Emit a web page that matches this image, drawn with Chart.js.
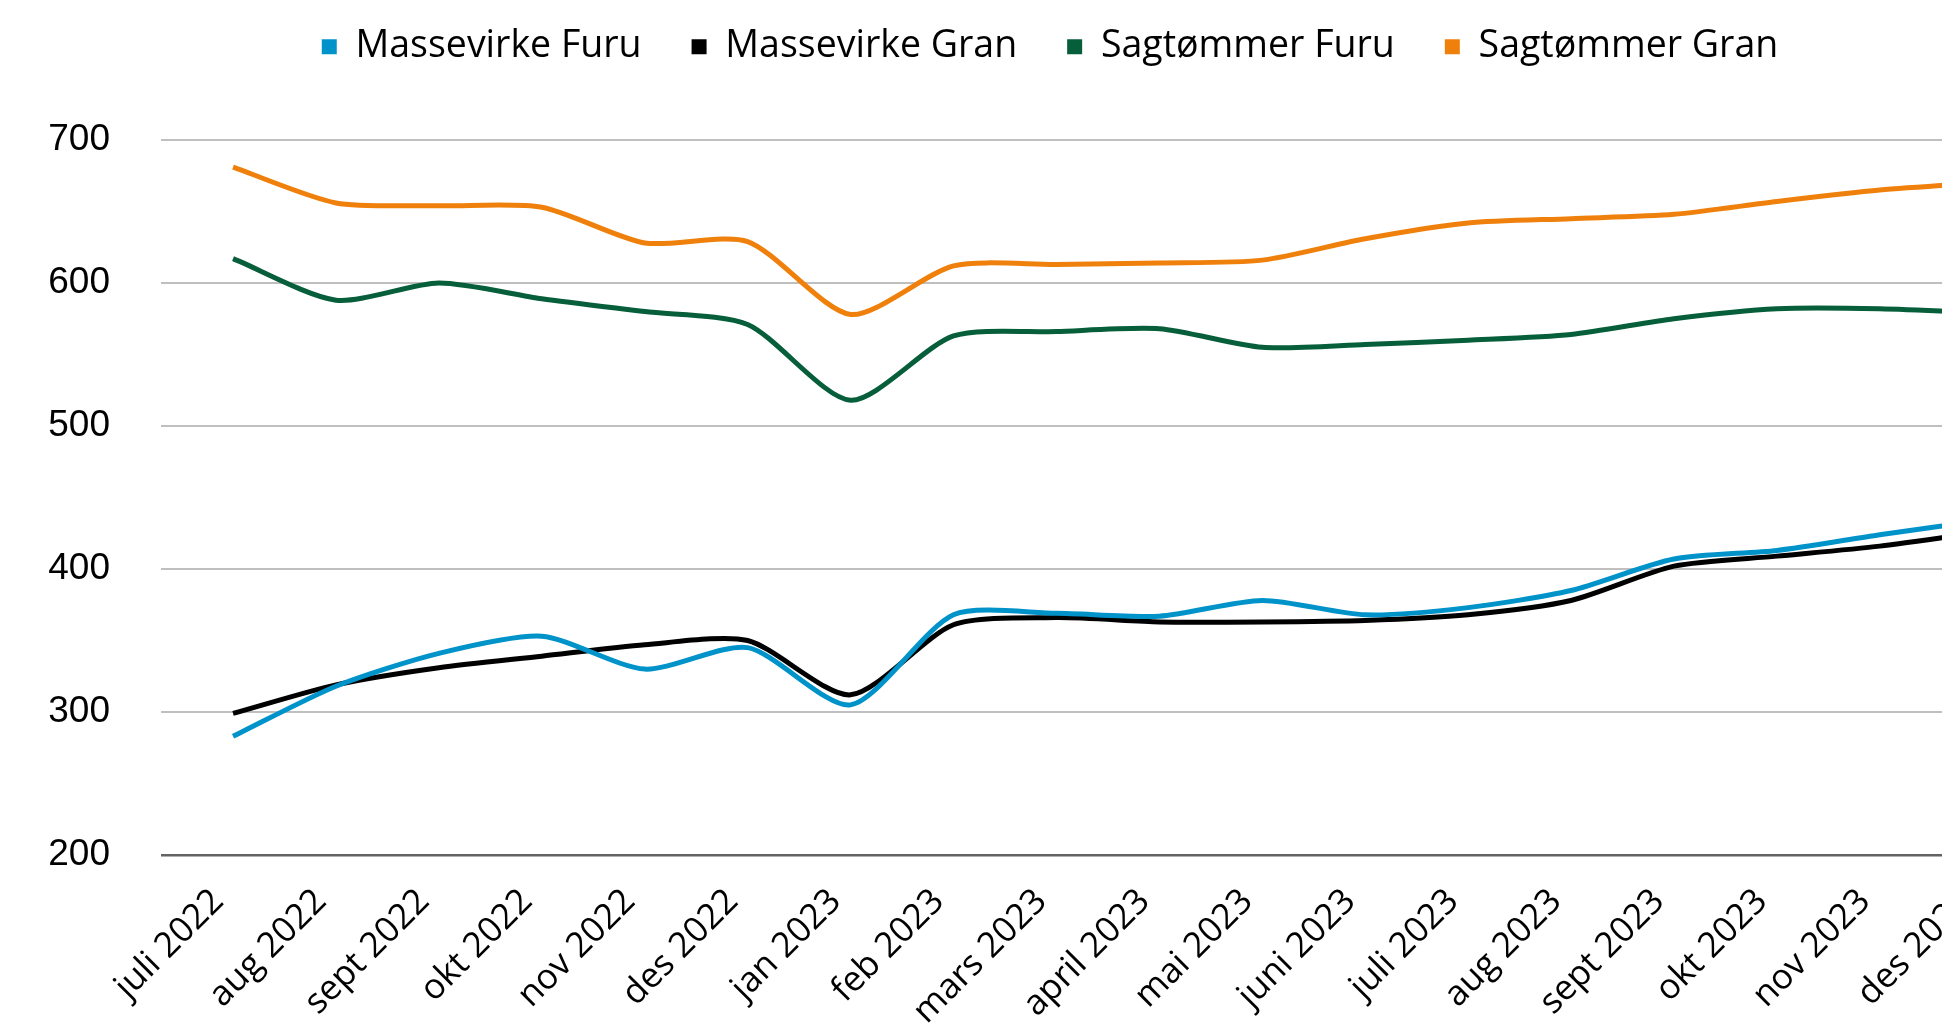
<!DOCTYPE html>
<html>
<head>
<meta charset="utf-8">
<script src="https://cdn.jsdelivr.net/npm/chart.js@4.4.1/dist/chart.umd.min.js"></script>
<style>
    html, body { margin: 0; padding: 0; background: #fff; overflow: hidden; width: 1942px; height: 1027px; }
    #wrap { position: absolute; left: 0; top: -22px; }
    canvas { display: block; }
</style>
</head>
<body>
<div id="wrap"><canvas id="priceChart" width="2100" height="1049"></canvas></div>
<script>
// ========== DATA ==========
const months = ['juli 2022', 'aug 2022', 'sept 2022', 'okt 2022', 'nov 2022', 'des 2022',
    'jan 2023', 'feb 2023', 'mars 2023', 'april 2023', 'mai 2023', 'juni 2023',
    'juli 2023', 'aug 2023', 'sept 2023', 'okt 2023', 'nov 2023', 'des 2023'];

const massevirkeFuru = [283, 318, 341, 353, 330, 345, 305, 368, 369, 367, 378, 368, 373, 385, 407, 413, 424, 434];
const massevirkeGran = [299, 319, 331, 339, 347, 350, 312, 361, 366, 363, 363, 364, 368, 378, 402, 409, 416, 426];
const sagtommerFuru = [617, 588, 600, 589, 580, 571, 518, 563, 566, 568, 555, 557, 560, 564, 575, 582, 582, 579];
const sagtommerGran = [681, 656, 654, 653, 628, 629, 578, 612, 613, 614, 616, 631, 642, 645, 648, 657, 665, 670];

const yTicks = [200, 300, 400, 500, 600, 700];

// ========== CHART ==========
const labelFont = "'Open Sans', sans-serif";

function series(label, values, color) {
    return {
        label: label,
        data: values.map((v, i) => ({ x: i, y: v })),
        borderColor: color,
        backgroundColor: color,
        borderWidth: 5,
        pointRadius: 0,
        tension: 0.25,
        fill: false
    };
}

new Chart(document.getElementById('priceChart'), {
    type: 'line',
    data: {
        datasets: [
            series('Massevirke Furu', massevirkeFuru, '#0093C9'),
            series('Massevirke Gran', massevirkeGran, '#000000'),
            series('Sagtømmer Furu', sagtommerFuru, '#075E3A'),
            series('Sagtømmer Gran', sagtommerGran, '#F0800C')
        ]
    },
    options: {
        responsive: false,
        devicePixelRatio: 1,
        animation: false,
        layout: { padding: 0 },
        plugins: {
            legend: {
                position: 'top',
                weight: 3000,
                labels: {
                    color: '#000',
                    font: { family: labelFont, size: 37.5 },
                    boxWidth: 15,
                    boxHeight: 15,
                    padding: 50,
                    generateLabels: chart => Chart.defaults.plugins.legend.labels.generateLabels(chart)
                        .map(item => ({ ...item, lineWidth: 0 }))
                }
            },
            // empty title used as spacing between legend and plot
            title: { display: true, text: '', padding: 0, font: { size: 64.5, lineHeight: 1 } },
            tooltip: { enabled: false }
        },
        scales: {
            x: {
                type: 'linear',
                min: -0.7,
                max: 18.14,
                afterBuildTicks: s => { s.ticks = months.map((m, i) => ({ value: i })); },
                afterFit: s => { s.height = 172; },
                grid: { display: false },
                border: { display: false },
                ticks: {
                    autoSkip: false,
                    maxRotation: 45,
                    minRotation: 45,
                    padding: 18,
                    labelOffset: -15,
                    color: '#000',
                    font: { family: labelFont, size: 35 },
                    callback: v => months[v]
                }
            },
            y: {
                min: 200,
                max: 700,
                afterBuildTicks: s => { s.ticks = yTicks.map(v => ({ value: v })); },
                afterFit: s => { s.width = 161; },
                border: { display: false },
                grid: {
                    drawTicks: false,
                    color: ctx => ctx.tick && ctx.tick.value === 200 ? '#636363' : '#BFBFBF',
                    lineWidth: ctx => ctx.tick && ctx.tick.value === 200 ? 2.5 : 2
                },
                ticks: {
                    padding: 51,
                    color: '#000',
                    font: { family: "'Liberation Sans', Arial, sans-serif", size: 37 }
                }
            }
        }
    }
});
</script>
</body>
</html>
